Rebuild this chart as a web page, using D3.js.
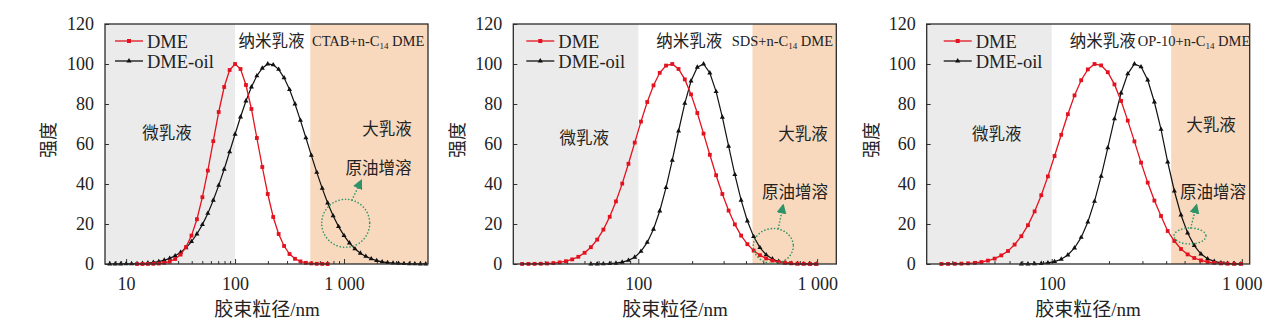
<!DOCTYPE html>
<html>
<head>
<meta charset="utf-8">
<script src="https://cdn.jsdelivr.net/npm/d3@7/dist/d3.min.js"></script>
<style>
  body { margin: 0; background: #fff; }
  svg text { font-family: "Liberation Serif", "Noto Sans CJK SC", serif; fill: #222; }
</style>
</head>
<body>
<svg id="chart" width="1270" height="324"></svg>
<script>
// Size bins (nm) used by the CTAB panel
const sizeBinsCTAB = [7.08, 7.94, 8.91, 10.0, 11.22, 12.59, 14.13, 15.85, 17.78, 19.95,
  22.39, 25.12, 28.18, 31.62, 35.48, 39.81, 44.67, 50.12, 56.23, 63.1,
  70.79, 79.43, 89.13, 100, 112.2, 125.9, 141.3, 158.5, 177.8, 199.5,
  223.9, 251.2, 281.8, 316.2, 354.8, 398.1, 446.7, 501.2, 562.3, 631.0,
  707.9, 794.3, 891.3, 1000, 1122, 1259, 1413, 1585, 1778, 1995,
  2239, 2512, 2818, 3162, 3548, 3981, 4467, 5012, 5623];

// Size bins (nm) used by the SDS and OP-10 panels
const sizeBinsFine = [22.4, 24.3, 26.3, 28.5, 30.9, 33.5, 36.3, 39.4, 42.7, 46.2,
  50.1, 54.3, 58.9, 63.8, 69.2, 75.0, 81.3, 88.1, 95.5, 103.5,
  112.2, 121.6, 131.8, 142.9, 154.9, 167.9, 182.0, 197.2, 213.8, 231.7,
  251.2, 272.3, 295.1, 319.9, 346.7, 375.8, 407.4, 441.6, 478.6, 518.8,
  562.3, 609.5, 660.7, 716.1, 776.3, 841.4, 912.0, 988.6, 1071.5];

// Normalised intensity, CTAB + n-C14 DME
const ctabDME = [null, null, null, null, null,
  0, 0, 0.04, 0.1, 0.25, 0.6, 1.2, 2.5, 4.7, 8.5, 14.2, 22.4, 33.4, 46.7, 61.4,
  76.0, 88.5, 97.0, 100, 97.5, 89.5, 77.5, 63, 48.5, 35, 23.5, 15, 9, 5, 2.6,
  1.3, 0.6, 0.3, 0.1, 0.05, 0,
  null, null, null, null, null, null, null, null, null, null, null, null, null, null, null, null, null, null];
const ctabDMEoil = [0, 0.02, 0.04, 0.06, 0.11, 0.19, 0.31, 0.5, 0.8, 1.2,
  1.9, 2.8, 4.1, 5.8, 8.1, 11.2, 15.0, 19.7, 25.3, 31.9,
  39.3, 47.4, 56.1, 64.9, 73.5, 81.5, 88.5, 94.1, 97.9, 100,
  99.6, 97.3, 93.1, 87.2, 80.0, 71.8, 63.1, 54.3, 45.8, 37.8,
  30.5, 24.1, 18.7, 14.2, 10.5, 7.6, 5.4, 3.8, 2.6, 1.7,
  1.1, 0.7, 0.45, 0.3, 0.17, 0.1, 0.06, 0.03, 0.02];

// Normalised intensity, SDS + n-C14 DME
const sdsDME = [0.02, 0.04, 0.07, 0.14, 0.26, 0.47, 0.82, 1.4, 2.3, 3.6,
  5.6, 8.4, 12.2, 17.2, 23.6, 31.3, 40.2, 50.1, 60.7, 71.2,
  81.0, 89.3, 95.6, 99.2, 100, 97.5, 92.3, 84.8, 75.5, 65.2,
  54.6, 44.4, 35.0, 26.7, 19.8, 14.2, 9.9, 6.7, 4.4, 2.8,
  1.7, 1.0, 0.6, 0.33, 0.18, 0.1, 0.05, 0.02, null];
const sdsDMEoil = [null, null, null, null, null, null, null, null, null, null, null,
  0.01, 0.03, 0.07, 0.18, 0.4, 0.9, 1.8, 3.4, 6.3,
  10.8, 17.4, 26.5, 38.2, 51.9, 66.5, 80.3, 91.5, 98.4, 100,
  95.5, 86.2, 73.4, 58.9, 44.7, 31.9, 21.5, 13.7, 8.2, 4.6,
  2.5, 1.25, 0.6, 0.27, 0.11, 0.05, 0.02, 0, null];

// Normalised intensity, OP-10 + n-C14 DME
const opDME = [null, null,
  0.02, 0.05, 0.09, 0.18, 0.33, 0.58, 1.0, 1.7,
  2.7, 4.3, 6.5, 9.7, 13.9, 19.4, 26.3, 34.4, 43.8, 54.0,
  64.6, 74.9, 84.3, 91.9, 97.3, 100, 99.3, 95.9, 89.8, 81.5,
  71.7, 61.3, 50.7, 40.7, 31.7, 24.0, 16.5, 11.5, 7.5, 4.8,
  3.0, 1.8, 1.0, 0.6, 0.3, 0.15, 0.08, 0.04, null];
const opDMEoil = [null, null, null, null, null, null, null, null, null, null, null, null, null, null,
  0.02, 0.04, 0.1, 0.25, 0.57, 1.2,
  2.4, 4.5, 8.0, 13.3, 21.0, 31.3, 43.9, 58.1, 72.6, 85.5,
  95.1, 100, 98.6, 92.0, 81.0, 67.3, 51, 36.5, 24.5, 15.5,
  9.2, 5.0, 2.6, 1.3, 0.6, 0.3, 0.12, 0.05, null];

// Axis ranges and region limits (nm)
const sizeDomains = [[6.4, 5900], [20, 1280], [22, 1100]];
const microLimit = 100;
const macroLimits = [490, 435, 425];
const majorTicks = [[10, 100, 1000], [100, 1000], [100, 1000]];
const intensityTicks = [0, 20, 40, 60, 80, 100, 120];
const systemNames = ["CTAB+n-C", "SDS+n-C", "OP-10+n-C"];
const seriesNames = ["DME", "DME-oil"];

const panels = [
  { sizes: sizeBinsCTAB, dme: ctabDME, oil: ctabDMEoil, left: 105, legendDx: 10,
    tag: { x: 271.5, y: 47 }, sys: 312, micro: { x: 167, y: 139 }, macro: { x: 387, y: 135 },
    boost: { x: 378.5, y: 174 }, ring: { cx: 345.7, cy: 223.3, rx: 24, ry: 24 },
    arrow: [352, 200, 361.5, 180], xTitle: 267, yTitle: 49 },
  { sizes: sizeBinsFine, dme: sdsDME, oil: sdsDMEoil, left: 513.3, legendDx: 13,
    tag: { x: 689.3, y: 47 }, sys: 731.7, micro: { x: 584.3, y: 143.5 }, macro: { x: 803, y: 140 },
    boost: { x: 795, y: 197.5 }, ring: { cx: 773.3, cy: 246, rx: 20, ry: 17.5 },
    arrow: [778.3, 228.5, 783.3, 204.5], xTitle: 675, yTitle: 458 },
  { sizes: sizeBinsFine, dme: opDME, oil: opDMEoil, left: 926.7, legendDx: 17,
    tag: { x: 1102.7, y: 47 }, sys: 1137.7, micro: { x: 996.7, y: 140 }, macro: { x: 1211, y: 131 },
    boost: { x: 1213, y: 197.5 }, ring: { cx: 1190, cy: 236, rx: 16, ry: 8 },
    arrow: [1190.7, 228, 1196.7, 204.5], xTitle: 1088, yTitle: 872 }
];

const W = 323, TOP = 24, BOTTOM = 264;
const RED = "#e3121e", BLACK = "#111", GREEN = "#2e9467";
const svg = d3.select("#chart");

const defs = svg.append("defs");
defs.append("marker").attr("id", "arrowHead")
  .attr("viewBox", "0 0 10 10").attr("refX", 9).attr("refY", 5)
  .attr("markerWidth", 10).attr("markerHeight", 10).attr("markerUnits", "userSpaceOnUse")
  .attr("orient", "auto")
  .append("path").attr("d", "M0,0 L10,5 L0,10 Z").attr("fill", GREEN);

const fmtSize = d => d === 1000 ? "1 000" : String(d);

panels.forEach((p, i) => {
  const g = svg.append("g");
  const x = d3.scaleLog().domain(sizeDomains[i]).range([p.left, p.left + W]);
  const y = d3.scaleLinear().domain([0, 120]).range([BOTTOM, TOP]);
  const [d0, d1] = sizeDomains[i];

  // Micro- and macro-emulsion regions
  g.append("rect").attr("x", x(d0)).attr("y", TOP)
    .attr("width", x(microLimit) - x(d0)).attr("height", BOTTOM - TOP).attr("fill", "#ebebeb");
  g.append("rect").attr("x", x(macroLimits[i])).attr("y", TOP)
    .attr("width", x(d1) - x(macroLimits[i])).attr("height", BOTTOM - TOP).attr("fill", "#f8d9be");

  // Axes, ticks pointing inwards
  const minor = [];
  for (let e = Math.floor(Math.log10(d0)); e <= Math.ceil(Math.log10(d1)); e++) {
    for (let m = 2; m <= 9; m++) {
      const v = m * Math.pow(10, e);
      if (v > d0 && v < d1) minor.push(v);
    }
  }
  g.append("g").attr("transform", `translate(0,${BOTTOM})`)
    .call(d3.axisBottom(x).tickValues(minor).tickSize(-3).tickFormat(""))
    .call(a => a.select(".domain").remove())
    .call(a => a.selectAll("line").attr("stroke", "#333"));
  g.append("g").attr("transform", `translate(0,${BOTTOM})`)
    .call(d3.axisBottom(x).tickValues(majorTicks[i]).tickSize(-5).tickPadding(13).tickFormat(fmtSize))
    .call(a => a.select(".domain").remove())
    .call(a => a.selectAll("line").attr("stroke", "#333"))
    .call(a => a.selectAll("text").attr("font-size", 18).attr("fill", "#222")
      .style("font-family", "Liberation Serif"));
  g.append("g").attr("transform", `translate(${p.left},0)`)
    .call(d3.axisLeft(y).tickValues(intensityTicks).tickSize(-4).tickPadding(11))
    .call(a => a.select(".domain").remove())
    .call(a => a.selectAll("line").attr("stroke", "#333"))
    .call(a => a.selectAll("text").attr("font-size", 18).attr("fill", "#222")
      .style("font-family", "Liberation Serif"));

  // Series
  const line = d3.line().x(d => x(d.s)).y(d => y(d.v));
  const toPts = vals => p.sizes.map((s, k) => ({ s, v: vals[k] })).filter(d => d.v != null);
  const dmePts = toPts(p.dme), oilPts = toPts(p.oil);

  g.append("path").datum(oilPts).attr("d", line)
    .attr("fill", "none").attr("stroke", BLACK).attr("stroke-width", 1.2);
  g.append("g").selectAll("path").data(oilPts).join("path")
    .attr("transform", d => `translate(${x(d.s)},${y(d.v)})`)
    .attr("d", d3.symbol(d3.symbolTriangle, 11)).attr("fill", BLACK);

  g.append("path").datum(dmePts).attr("d", line)
    .attr("fill", "none").attr("stroke", RED).attr("stroke-width", 1.3);
  g.append("g").selectAll("rect").data(dmePts).join("rect")
    .attr("x", d => x(d.s) - 1.9).attr("y", d => y(d.v) - 1.9)
    .attr("width", 3.8).attr("height", 3.8).attr("fill", RED);

  // Frame
  g.append("rect").attr("x", p.left).attr("y", TOP).attr("width", W).attr("height", BOTTOM - TOP)
    .attr("fill", "none").attr("stroke", "#2b2b2b").attr("stroke-width", 1.3);

  // Legend
  const lx = p.left + p.legendDx;
  [[seriesNames[0], RED, "square", 41], [seriesNames[1], BLACK, "tri", 61]].forEach(([name, col, shape, ly]) => {
    g.append("line").attr("x1", lx).attr("x2", lx + 28).attr("y1", ly).attr("y2", ly)
      .attr("stroke", col).attr("stroke-width", 1.3);
    if (shape === "square") {
      g.append("rect").attr("x", lx + 12).attr("y", ly - 2).attr("width", 4).attr("height", 4).attr("fill", col);
    } else {
      g.append("path").attr("transform", `translate(${lx + 14},${ly})`)
        .attr("d", d3.symbol(d3.symbolTriangle, 12)).attr("fill", col);
    }
    g.append("text").attr("x", lx + 32).attr("y", ly + 6.5).attr("font-size", 18.5).text(name);
  });

  // Region labels
  const cjk = (t, pos, size = 16.5) => g.append("text").attr("x", pos.x).attr("y", pos.y)
    .attr("text-anchor", "middle").attr("font-size", size).attr("fill", "#333").text(t);
  cjk("纳米乳液", p.tag);
  cjk("微乳液", p.micro);
  cjk("大乳液", p.macro);
  cjk("原油增溶", p.boost);

  const sys = g.append("text").attr("x", p.sys).attr("y", 46).attr("font-size", 14.5);
  sys.append("tspan").text(systemNames[i]);
  sys.append("tspan").attr("font-size", 9).attr("dy", 3).text("14");
  sys.append("tspan").attr("dy", -3).text(" DME");

  // Solubilised-oil highlight
  g.append("ellipse").attr("cx", p.ring.cx).attr("cy", p.ring.cy)
    .attr("rx", p.ring.rx).attr("ry", p.ring.ry)
    .attr("fill", "none").attr("stroke", GREEN).attr("stroke-width", 1.6)
    .attr("stroke-dasharray", "0.1 3.2").attr("stroke-linecap", "round");
  g.append("line").attr("x1", p.arrow[0]).attr("y1", p.arrow[1])
    .attr("x2", p.arrow[2]).attr("y2", p.arrow[3])
    .attr("stroke", GREEN).attr("stroke-width", 1.6)
    .attr("stroke-dasharray", "0.1 3.2").attr("stroke-linecap", "round")
    .attr("marker-end", "url(#arrowHead)");

  // Axis titles
  g.append("text").attr("x", p.xTitle).attr("y", 316).attr("text-anchor", "middle")
    .attr("font-size", 19).text("胶束粒径/nm");
  g.append("text").attr("transform", `translate(${p.yTitle + 6},140) rotate(-90)`)
    .attr("text-anchor", "middle").attr("font-size", 18).text("强度");
});
</script>
</body>
</html>
